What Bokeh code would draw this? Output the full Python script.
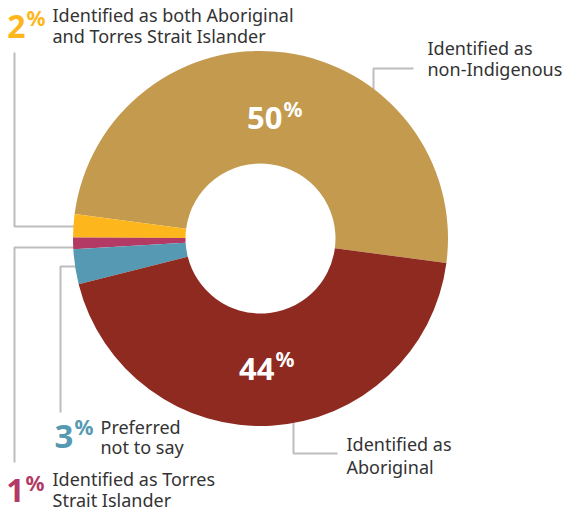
import numpy as np
from bokeh.plotting import figure
from bokeh.models import Range1d, ColumnDataSource
from bokeh.core.properties import value
from bokeh.embed import file_html
from bokeh.resources import INLINE

# ---- data ----
categories = ["Identified as non-Indigenous",
              "Identified as both Aboriginal and Torres Strait Islander",
              "Identified as Torres Strait Islander",
              "Preferred not to say",
              "Identified as Aboriginal"]
values = [50, 2, 1, 3, 44]
colors = ["#C49A4E", "#FDB71C", "#B23A64", "#559AB2", "#8F2A21"]
pct_labels = ["50", "2", "1", "3", "44"]

W, H = 567, 510
FONT = "Noto Sans"
TXT = "#333333"
LINE = "#BDBDBD"
SHIFT = 0.32  # baseline correction (fraction of font size)

def sy(y):
    return H - y

p = figure(width=W, height=H, x_range=Range1d(0, W), y_range=Range1d(0, H),
           min_border=0, toolbar_location=None, output_backend="svg")
p.axis.visible = False
p.grid.visible = False
p.outline_line_color = None
p.background_fill_color = "white"

# leader lines (drawn under the donut)
leaders = [
    ([14, 14, 76], [52, 226, 226]),
    ([14, 14, 76], [462, 247, 247]),
    ([60, 60, 82], [412, 266, 266]),
    ([413, 373, 373], [68, 68, 96]),
    ([337, 293, 293], [453, 453, 418]),
]
for xs, ys in leaders:
    p.line(xs, [sy(v) for v in ys], line_color=LINE, line_width=2)

# donut
cx, cy = 260, sy(238)
start0 = np.deg2rad(-7.5)
fr = np.array(values, dtype=float) / sum(values)
ends = start0 + np.cumsum(fr) * 2 * np.pi
starts = np.concatenate([[start0], ends[:-1]])
src = ColumnDataSource(dict(start=starts, end=ends, color=colors, cat=categories))
p.annular_wedge(x=cx, y=cy, inner_radius=75, outer_radius=187.5,
                start_angle="start", end_angle="end", fill_color="color",
                line_color=None, source=src)

def txt(x, base, t, size, color, bold=False, align="left"):
    p.text(x=[x], y=[sy(base - SHIFT * size)], text=[t], text_font=value(FONT),
           text_font_style="bold" if bold else "normal",
           text_font_size=f"{size}px", text_color=color,
           text_align=align, text_baseline="alphabetic")

def big(num, xr, base, color, ptop_base, size=31, psize=21):
    txt(xr, base, num, size, color, bold=True, align="right")
    txt(xr + 1, ptop_base, "%", psize, color, bold=True)

def label(lines, x, base0, step=21.5):
    for i, t in enumerate(lines):
        txt(x, base0 + i * step, t, 18, TXT)

# percentage labels
big(pct_labels[0], 282, 127, "white", 115)
big(pct_labels[4], 274, 378, "white", 365)
big(pct_labels[1], 25, 36, colors[1], 24, size=32)
big(pct_labels[3], 73, 447, colors[3], 433, size=33)
big(pct_labels[2], 24, 500, colors[2], 489, size=32)

# category labels
label(["Identified as both Aboriginal", "and Torres Strait Islander"], 52, 20)
label(["Identified as", "non-Indigenous"], 427, 53)
label(["Identified as", "Aboriginal"], 346, 449.5, 22.5)
label(["Preferred", "not to say"], 100, 432, 20.5)
label(["Identified as Torres", "Strait Islander"], 52, 484, 21)

open("out.html", "w").write(file_html(p, INLINE))
